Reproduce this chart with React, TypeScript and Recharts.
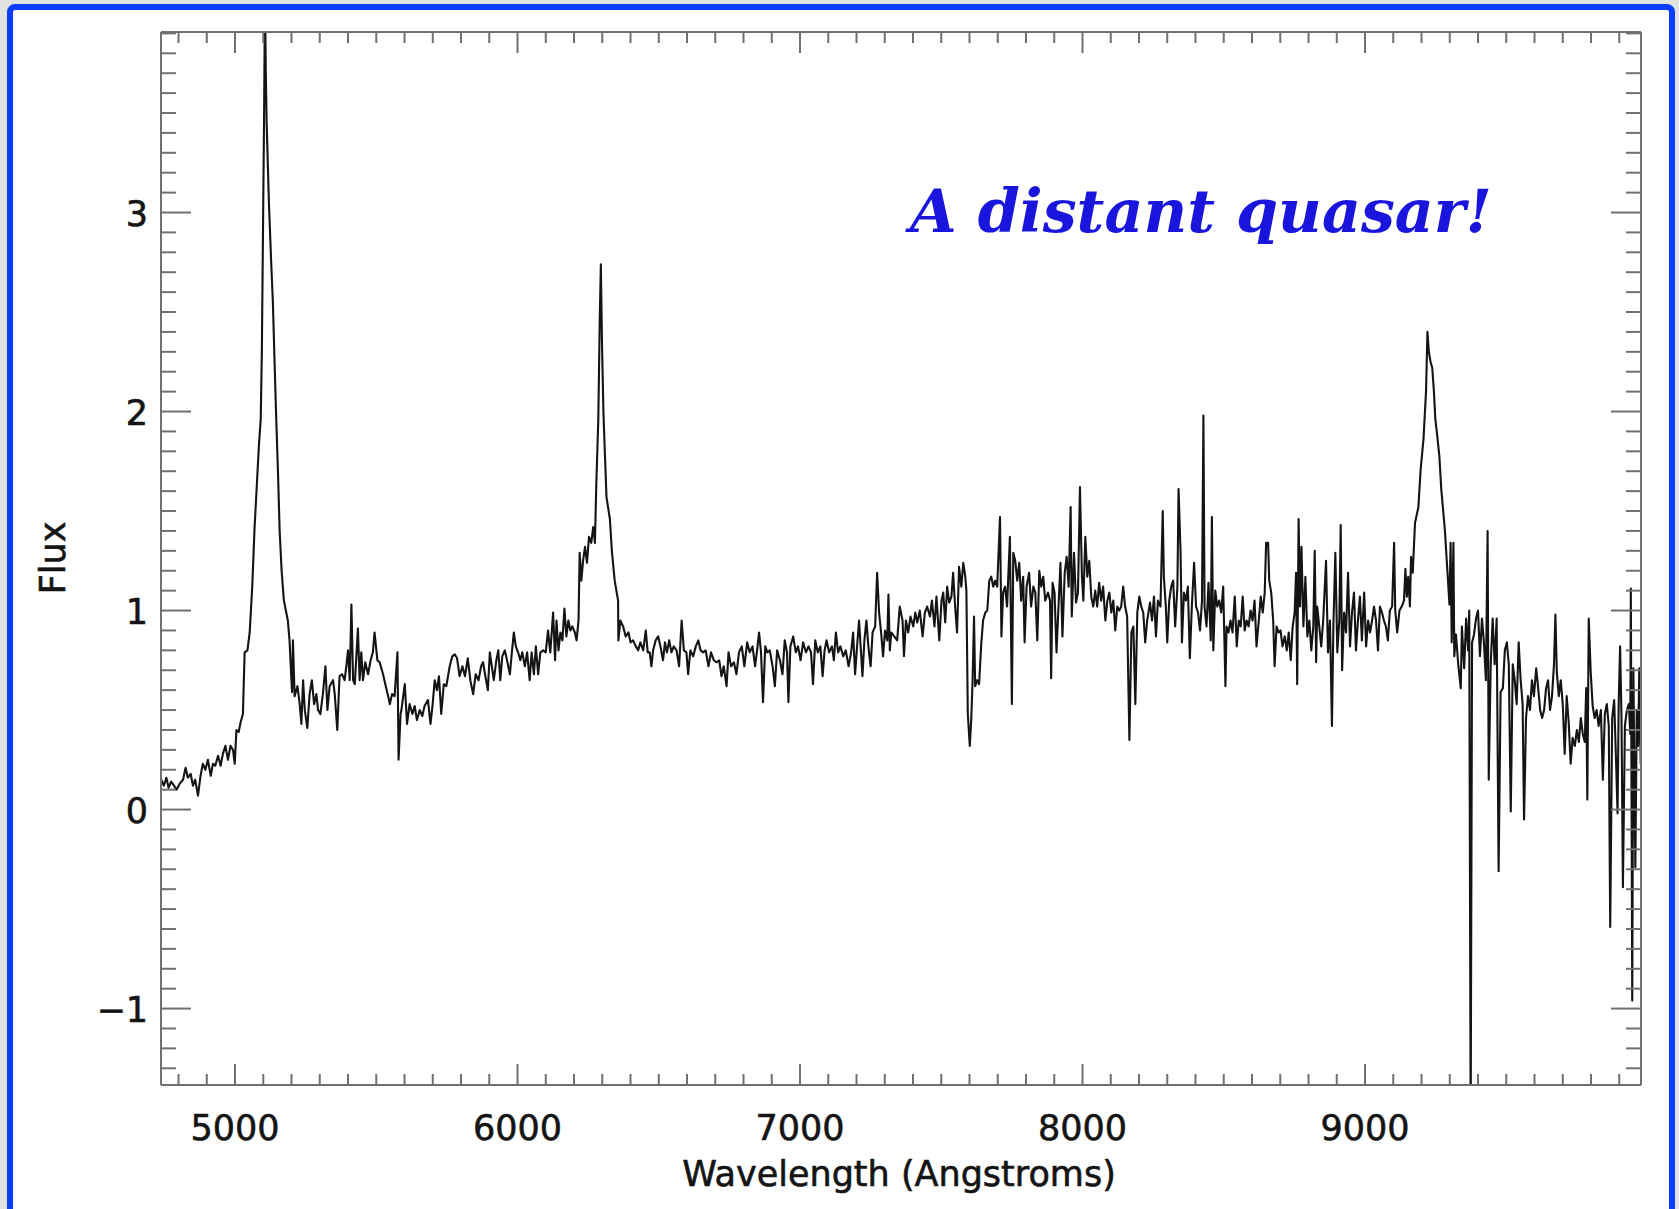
import React from 'react';
import { LineChart, Line, XAxis, YAxis } from 'recharts';

// Spectrum samples as [wavelength (Angstroms), flux] pairs, ordered blue to red.
const blueEdge: [number, number][] = [
  [4739, 0.15], [4748, 0.12], [4757, 0.16], [4765, 0.11], [4774, 0.14], [4784, 0.12], [4793, 0.10],
  [4804, 0.13], [4816, 0.15], [4825, 0.21], [4833, 0.16], [4843, 0.18], [4851, 0.12], [4859, 0.15],
  [4869, 0.07], [4878, 0.17], [4886, 0.23], [4895, 0.20], [4904, 0.25], [4914, 0.17], [4922, 0.23],
  [4930, 0.22], [4940, 0.27], [4949, 0.22], [4957, 0.28], [4966, 0.32], [4975, 0.25], [4984, 0.32],
  [4993, 0.30], [4999, 0.23], [5005, 0.40], [5013, 0.39], [5020, 0.44], [5028, 0.48],
];

const firstPeak: [number, number][] = [
  [5034, 0.79], [5044, 0.80], [5052, 0.89], [5061, 1.12], [5069, 1.41], [5085, 1.84], [5091, 1.96],
  [5095, 2.30], [5099, 2.90], [5103, 3.50], [5106, 4.10], [5109, 3.70], [5112, 3.45], [5120, 3.05],
  [5128, 2.75], [5134, 2.55], [5140, 2.25], [5146, 1.96], [5152, 1.70], [5158, 1.40], [5165, 1.20],
  [5173, 1.05], [5180, 1.00], [5187, 0.95], [5193, 0.85], [5199, 0.67], [5202, 0.59],
];

const range5200to5600: [number, number][] = [
  [5205, 0.85], [5211, 0.57], [5221, 0.62], [5229, 0.53], [5235, 0.43], [5241, 0.65], [5247, 0.50],
  [5256, 0.41], [5264, 0.58], [5272, 0.65], [5280, 0.53], [5288, 0.58], [5294, 0.50], [5302, 0.48],
  [5311, 0.58], [5320, 0.72], [5327, 0.50], [5335, 0.62], [5347, 0.65], [5353, 0.58], [5362, 0.40],
  [5370, 0.67], [5379, 0.68], [5388, 0.65], [5394, 0.72], [5400, 0.80], [5406, 0.65], [5412, 1.03],
  [5418, 0.65], [5424, 0.63], [5435, 0.91], [5441, 0.65], [5447, 0.79], [5453, 0.65], [5461, 0.74],
  [5471, 0.68], [5480, 0.75], [5488, 0.79], [5494, 0.89], [5504, 0.75], [5512, 0.74], [5524, 0.68],
  [5532, 0.63], [5542, 0.57], [5548, 0.53], [5556, 0.58], [5565, 0.57], [5575, 0.79], [5579, 0.25],
  [5586, 0.48],
];

const range5600to6220: [number, number][] = [
  [5589, 0.50], [5601, 0.63], [5609, 0.43], [5618, 0.53], [5628, 0.48], [5636, 0.52], [5644, 0.45],
  [5654, 0.50], [5663, 0.47], [5671, 0.52], [5683, 0.55], [5692, 0.43], [5699, 0.52], [5707, 0.65],
  [5715, 0.60], [5722, 0.67], [5730, 0.48], [5739, 0.63], [5748, 0.62], [5760, 0.72], [5769, 0.77],
  [5778, 0.78], [5786, 0.76], [5795, 0.67], [5805, 0.72], [5814, 0.67], [5824, 0.76], [5833, 0.65],
  [5843, 0.58], [5852, 0.68], [5862, 0.65], [5871, 0.72], [5878, 0.74], [5885, 0.68], [5895, 0.60],
  [5902, 0.79], [5909, 0.72], [5916, 0.65], [5925, 0.75], [5932, 0.80], [5939, 0.65], [5946, 0.77],
  [5955, 0.80], [5963, 0.75], [5973, 0.68], [5980, 0.79], [5987, 0.89], [5994, 0.82], [6002, 0.79],
  [6010, 0.75], [6017, 0.79], [6026, 0.72], [6034, 0.79], [6043, 0.65], [6050, 0.79], [6058, 0.68],
  [6065, 0.82], [6073, 0.68], [6081, 0.79], [6091, 0.80], [6100, 0.79], [6108, 0.90], [6116, 0.79],
  [6126, 0.99], [6133, 0.75], [6138, 0.95], [6145, 0.80], [6152, 0.89], [6159, 0.85], [6166, 1.01],
  [6173, 0.87], [6180, 0.95], [6187, 0.90], [6194, 0.92], [6203, 0.89], [6209, 0.85], [6216, 0.95],
];

const secondPeak: [number, number][] = [
  [6220, 1.29], [6226, 1.15], [6232, 1.25], [6239, 1.32], [6246, 1.24], [6253, 1.37], [6261, 1.34],
  [6268, 1.42], [6274, 1.34], [6279, 1.64], [6286, 1.96], [6291, 2.45], [6295, 2.74], [6299, 2.35],
  [6304, 2.00], [6309, 1.80], [6315, 1.57], [6327, 1.46], [6334, 1.30], [6344, 1.15], [6356, 1.05],
  [6357, 0.85], [6364, 0.95], [6374, 0.92], [6383, 0.87], [6393, 0.89], [6400, 0.84], [6409, 0.85],
  [6419, 0.82], [6427, 0.80], [6435, 0.84], [6445, 0.80], [6454, 0.90], [6461, 0.79],
];

const range6460to7350: [number, number][] = [
  [6468, 0.79], [6474, 0.72], [6480, 0.80], [6489, 0.85], [6498, 0.87], [6506, 0.82], [6515, 0.75],
  [6522, 0.84], [6529, 0.79], [6537, 0.85], [6545, 0.79], [6553, 0.82], [6563, 0.80], [6572, 0.72],
  [6581, 0.95], [6589, 0.80], [6598, 0.79], [6604, 0.68], [6612, 0.80], [6622, 0.77], [6631, 0.82],
  [6640, 0.85], [6648, 0.80], [6657, 0.79], [6666, 0.80], [6676, 0.72], [6685, 0.79], [6695, 0.75],
  [6704, 0.74], [6714, 0.75], [6722, 0.67], [6730, 0.72], [6740, 0.62], [6747, 0.79], [6756, 0.72],
  [6766, 0.74], [6775, 0.68], [6784, 0.79], [6794, 0.82], [6803, 0.72], [6813, 0.84], [6822, 0.79],
  [6832, 0.82], [6841, 0.72], [6848, 0.80], [6855, 0.89], [6862, 0.79], [6869, 0.54], [6877, 0.82],
  [6884, 0.79], [6893, 0.80], [6903, 0.72], [6911, 0.62], [6919, 0.80], [6929, 0.75], [6938, 0.68],
  [6946, 0.85], [6954, 0.79], [6959, 0.54], [6966, 0.82], [6976, 0.87], [6985, 0.79], [6993, 0.82],
  [7002, 0.75], [7011, 0.84], [7021, 0.79], [7030, 0.82], [7039, 0.79], [7046, 0.63], [7054, 0.85],
  [7063, 0.79], [7072, 0.82], [7080, 0.67], [7087, 0.80], [7094, 0.85], [7103, 0.79], [7113, 0.82],
  [7120, 0.75], [7127, 0.89], [7135, 0.79], [7143, 0.82], [7153, 0.77], [7162, 0.80], [7172, 0.72],
  [7181, 0.79], [7188, 0.89], [7195, 0.68], [7202, 0.82], [7209, 0.95], [7216, 0.79], [7221, 0.67],
  [7228, 0.85], [7235, 0.95], [7242, 0.82], [7250, 0.72], [7257, 0.89], [7266, 0.92], [7273, 1.19],
  [7280, 0.99], [7287, 0.89], [7294, 0.77], [7301, 0.90], [7309, 0.85], [7313, 1.08], [7318, 0.80],
  [7323, 0.89], [7344, 0.85],
];

const range7350to8230: [number, number][] = [
  [7353, 1.02], [7363, 0.95], [7368, 0.77], [7375, 0.95], [7383, 0.89], [7391, 0.97], [7401, 0.92],
  [7408, 0.99], [7415, 0.94], [7424, 1.00], [7434, 0.87], [7442, 0.99], [7450, 1.02], [7460, 0.97],
  [7467, 1.05], [7476, 0.92], [7483, 1.07], [7493, 0.85], [7501, 1.05], [7507, 1.09], [7514, 0.94],
  [7521, 1.12], [7528, 1.04], [7536, 1.07], [7542, 1.19], [7549, 1.02], [7556, 0.89], [7563, 1.22],
  [7571, 1.12], [7578, 1.24], [7585, 1.17], [7589, 1.10], [7594, 0.48], [7601, 0.32], [7606, 0.45],
  [7611, 0.65], [7616, 0.97], [7620, 0.62], [7627, 0.65], [7634, 0.63], [7641, 0.82], [7648, 0.95],
  [7656, 0.99], [7663, 1.00], [7670, 1.15], [7677, 1.17], [7684, 1.12], [7691, 1.15], [7698, 1.12],
  [7708, 1.47], [7713, 0.87], [7719, 1.09], [7726, 1.12], [7733, 1.02], [7743, 1.37], [7750, 0.53],
  [7755, 1.29], [7762, 1.25], [7769, 1.15], [7776, 1.24], [7783, 1.05], [7790, 1.17], [7795, 0.84],
  [7802, 1.12], [7811, 1.19], [7818, 1.02], [7826, 1.12], [7833, 1.09], [7840, 0.85], [7847, 1.20],
  [7854, 1.12], [7861, 1.17], [7868, 1.05], [7878, 1.09], [7885, 1.05], [7889, 0.66], [7894, 1.14],
  [7901, 1.09], [7908, 0.79], [7915, 1.02], [7922, 1.24], [7929, 0.87], [7937, 1.19], [7944, 1.27],
  [7951, 1.12], [7958, 1.52], [7962, 0.97], [7970, 1.29], [7977, 1.04], [7984, 1.09], [7991, 1.62],
  [7998, 1.17], [8003, 1.05], [8010, 1.37], [8017, 1.17], [8024, 1.25], [8031, 1.07], [8038, 1.02],
  [8045, 1.10], [8052, 1.02], [8059, 1.14], [8066, 1.05], [8073, 1.12], [8081, 0.95], [8088, 1.05],
  [8095, 1.09], [8102, 0.99], [8109, 1.05], [8116, 0.90], [8123, 1.02], [8130, 1.00], [8137, 1.02],
  [8144, 1.12], [8151, 1.02], [8158, 0.97], [8166, 0.35], [8173, 0.89], [8180, 0.92], [8187, 0.53],
  [8194, 0.99], [8201, 1.07], [8208, 1.02], [8215, 0.99], [8222, 0.84], [8229, 0.95],
];

const range8230to9125: [number, number][] = [
  [8239, 1.04], [8246, 0.95], [8253, 1.07], [8260, 0.87], [8267, 1.05], [8276, 1.02], [8284, 1.50],
  [8288, 1.17], [8295, 1.02], [8300, 0.84], [8307, 1.05], [8314, 1.12], [8321, 1.15], [8328, 0.92],
  [8336, 1.12], [8340, 1.61], [8347, 1.30], [8352, 0.84], [8359, 1.09], [8366, 1.05], [8373, 1.12],
  [8380, 0.76], [8387, 1.02], [8395, 1.24], [8402, 1.02], [8409, 0.99], [8416, 0.90], [8423, 1.05],
  [8428, 1.98], [8432, 1.02], [8439, 0.92], [8446, 1.14], [8454, 0.85], [8458, 1.47], [8463, 0.80],
  [8470, 1.10], [8477, 1.02], [8484, 1.05], [8491, 0.99], [8498, 1.12], [8506, 0.62], [8510, 0.92],
  [8517, 0.89], [8524, 0.95], [8531, 0.89], [8539, 1.07], [8546, 0.82], [8553, 0.95], [8560, 0.92],
  [8567, 1.07], [8574, 0.90], [8581, 0.95], [8588, 0.92], [8595, 1.00], [8602, 0.95], [8609, 1.05],
  [8616, 0.82], [8624, 0.95], [8631, 1.07], [8638, 0.99], [8645, 1.09], [8650, 1.34], [8657, 1.34],
  [8661, 1.15], [8668, 1.09], [8675, 0.95], [8680, 0.72], [8687, 0.92], [8694, 0.89], [8701, 0.90],
  [8708, 0.82], [8716, 0.87], [8723, 0.80], [8730, 0.89], [8737, 0.75], [8744, 0.92], [8751, 0.99],
  [8756, 1.19], [8760, 0.63], [8765, 1.46], [8770, 1.02], [8775, 1.32], [8782, 0.92], [8789, 1.17],
  [8796, 0.87], [8803, 0.95], [8810, 0.80], [8817, 0.92], [8822, 1.30], [8827, 0.74], [8831, 1.02],
  [8838, 0.92], [8845, 0.82], [8852, 0.95], [8862, 1.25], [8869, 0.79], [8876, 0.95], [8883, 0.42],
  [8888, 0.92], [8895, 1.29], [8902, 0.79], [8909, 0.95], [8914, 1.43], [8919, 0.70], [8926, 0.99],
  [8933, 0.89], [8940, 1.19], [8947, 0.82], [8954, 0.99], [8961, 1.09], [8968, 0.80], [8975, 0.95],
  [8982, 1.07], [8989, 0.85], [8997, 1.09], [9004, 0.82], [9011, 0.95], [9018, 0.89], [9025, 0.95],
  [9032, 1.02], [9039, 0.95], [9046, 0.80], [9053, 1.02], [9060, 0.99], [9067, 0.95], [9074, 0.92],
  [9081, 0.85], [9088, 1.00], [9096, 1.02], [9103, 1.34], [9107, 1.00], [9114, 0.89], [9122, 1.00],
];

const thirdPeak: [number, number][] = [
  [9130, 1.02], [9138, 1.05], [9143, 1.21], [9148, 1.07], [9153, 1.17], [9159, 1.02], [9163, 1.27],
  [9169, 1.19], [9177, 1.44], [9189, 1.52], [9197, 1.71], [9207, 1.86], [9216, 2.10], [9221, 2.40],
  [9226, 2.30], [9232, 2.25], [9238, 2.22], [9244, 2.10], [9249, 1.96], [9254, 1.90], [9263, 1.78],
  [9270, 1.61], [9283, 1.40], [9289, 1.26], [9299, 1.03],
];

const redEdge: [number, number][] = [
  [9303, 1.34], [9307, 0.84], [9313, 1.34], [9316, 0.77], [9322, 0.88], [9330, 0.73], [9339, 0.61],
  [9343, 0.92], [9351, 0.71], [9358, 0.96], [9365, 0.80], [9369, 1.00], [9374, -1.60], [9379, 0.84],
  [9386, 0.88], [9393, 0.96], [9400, 1.00], [9407, 0.77], [9414, 0.96], [9421, 0.84], [9428, 0.65],
  [9434, 1.40], [9438, 0.15], [9445, 0.73], [9452, 0.96], [9459, 0.73], [9466, 0.96], [9473, -0.31],
  [9480, 0.59], [9488, 0.61], [9495, 0.80], [9502, 0.84], [9509, 0.73], [9516, -0.01], [9523, 0.73],
  [9530, 0.65], [9537, 0.53], [9544, 0.84], [9551, 0.65], [9558, 0.53], [9563, -0.05], [9570, 0.46],
  [9577, 0.57], [9584, 0.50], [9591, 0.65], [9598, 0.57], [9606, 0.71], [9613, 0.61], [9620, 0.50],
  [9627, 0.46], [9634, 0.50], [9641, 0.61], [9648, 0.65], [9655, 0.50], [9662, 0.57], [9669, 0.73],
  [9674, 0.98], [9679, 0.69], [9686, 0.57], [9693, 0.65], [9700, 0.53], [9707, 0.28], [9714, 0.57],
  [9721, 0.44], [9728, 0.23], [9735, 0.36], [9743, 0.32], [9750, 0.40], [9757, 0.34], [9764, 0.46],
  [9771, 0.38], [9778, 0.34], [9783, 0.61], [9787, 0.05], [9792, 0.96], [9799, 0.69], [9806, 0.52],
  [9813, 0.46], [9820, 0.50], [9827, 0.42], [9835, 0.50], [9842, 0.15], [9849, 0.48], [9856, 0.53],
  [9863, 0.42], [9868, -0.59], [9875, 0.46], [9882, 0.55], [9889, 0.23], [9894, -0.02], [9898, 0.53],
  [9903, 0.82], [9908, 0.46], [9913, -0.39], [9920, 0.42], [9927, 0.50], [9934, 0.53], [9939, 0.38],
  [9941, 1.11], [9946, -0.96], [9950, 0.71], [9957, -0.29], [9962, 0.50], [9967, 0.32], [9971, 0.71],
  [9976, 0.23],
];

// Axis ranges and tick marks
const X_DOMAIN: [number, number] = [4738, 9977];
const Y_DOMAIN: [number, number] = [-1.384, 3.907];
const X_MAJOR_STEP = 1000;
const X_MINOR = Array.from({ length: 52 }, (_, i) => 4800 + i * 100);
const Y_MINOR = Array.from({ length: 53 }, (_, i) => Math.round((-1.3 + i * 0.1) * 10) / 10);

const TITLE = 'A distant quasar!';
const X_TITLE = 'Wavelength (Angstroms)';
const Y_TITLE = 'Flux';

const spectrum = [
  ...blueEdge, ...firstPeak, ...range5200to5600, ...range5600to6220, ...secondPeak,
  ...range6460to7350, ...range7350to8230, ...range8230to9125, ...thirdPeak, ...redEdge,
].map(([wl, f]) => ({ wl, f }));

const FRAME = '#707070';
const INK = '#141414';
const SANS = '"DejaVu Sans", "Liberation Sans", sans-serif';

const isXMajor = (v: number) => v % X_MAJOR_STEP === 0;
const isYMajor = (v: number) => Math.abs(v - Math.round(v)) < 1e-6;
const fmtY = (v: number) => (v < 0 ? '\u2212' + Math.abs(v) : String(v));

// Text slightly emboldened with a thin outline of its own colour
const labelStyle = { stroke: INK, strokeWidth: 0.6 };

// Inward tick marks: majors long, minors half length; labels only on bottom/left.
const BottomTick = (p: any) => {
  const v = p.payload.value;
  const major = isXMajor(v);
  return (
    <g>
      <line x1={p.x} y1={p.y} x2={p.x} y2={p.y - (major ? 21 : 11)} stroke={FRAME} strokeWidth={2} />
      {major && (
        <text x={p.x} y={p.y + 55} textAnchor="middle" fontSize={35} fontFamily={SANS} fill={INK} style={labelStyle}>
          {v}
        </text>
      )}
    </g>
  );
};

const TopTick = (p: any) => {
  const major = isXMajor(p.payload.value);
  return <line x1={p.x} y1={p.y} x2={p.x} y2={p.y + (major ? 21 : 11)} stroke={FRAME} strokeWidth={2} />;
};

const LeftTick = (p: any) => {
  const v = p.payload.value;
  const major = isYMajor(v);
  return (
    <g>
      <line x1={p.x} y1={p.y} x2={p.x + (major ? 30 : 15)} y2={p.y} stroke={FRAME} strokeWidth={2} />
      {major && (
        <text x={p.x - 13} y={p.y + 13} textAnchor="end" fontSize={35} fontFamily={SANS} fill={INK} style={labelStyle}>
          {fmtY(Math.round(v))}
        </text>
      )}
    </g>
  );
};

const RightTick = (p: any) => {
  const major = isYMajor(p.payload.value);
  return <line x1={p.x} y1={p.y} x2={p.x - (major ? 30 : 15)} y2={p.y} stroke={FRAME} strokeWidth={2} />;
};

const axisLine = { stroke: FRAME, strokeWidth: 2 };

export default function App() {
  return (
    <div
      style={{
        position: 'absolute',
        left: 0,
        top: 0,
        width: 1679,
        height: 1209,
        overflow: 'hidden',
        background: '#e2e2e2',
      }}
    >
      <div
        style={{
          position: 'absolute',
          left: 7,
          top: 4,
          width: 1668,
          height: 1240,
          boxSizing: 'border-box',
          border: '6px solid #0a3dff',
          borderRadius: 8,
          background: '#ffffff',
        }}
      />
      <div style={{ position: 'absolute', left: 0, top: 0 }}>
        <LineChart
          width={1679}
          height={1209}
          data={spectrum}
          margin={{ top: 31, right: 37, bottom: 44, left: 61 }}
        >
          <XAxis
            xAxisId="bottom"
            type="number"
            dataKey="wl"
            domain={X_DOMAIN}
            allowDataOverflow
            ticks={X_MINOR}
            interval={0}
            tickSize={0}
            tickMargin={0}
            tickLine={false}
            axisLine={axisLine}
            height={80}
            tick={(p: any) => <BottomTick {...p} />}
          />
          <XAxis
            xAxisId="top"
            orientation="top"
            type="number"
            dataKey="wl"
            domain={X_DOMAIN}
            allowDataOverflow
            ticks={X_MINOR}
            interval={0}
            tickSize={0}
            tickMargin={0}
            tickLine={false}
            axisLine={axisLine}
            height={1}
            tick={(p: any) => <TopTick {...p} />}
          />
          <YAxis
            yAxisId="left"
            type="number"
            domain={Y_DOMAIN}
            allowDataOverflow
            ticks={Y_MINOR}
            interval={0}
            tickSize={0}
            tickMargin={0}
            tickLine={false}
            axisLine={axisLine}
            width={100}
            tick={(p: any) => <LeftTick {...p} />}
          />
          <YAxis
            yAxisId="right"
            orientation="right"
            type="number"
            domain={Y_DOMAIN}
            allowDataOverflow
            ticks={Y_MINOR}
            interval={0}
            tickSize={0}
            tickMargin={0}
            tickLine={false}
            axisLine={axisLine}
            width={1}
            tick={(p: any) => <RightTick {...p} />}
          />
          <Line
            xAxisId="bottom"
            yAxisId="left"
            dataKey="f"
            type="linear"
            stroke={INK}
            strokeWidth={2.1}
            strokeLinejoin="round"
            dot={false}
            activeDot={false}
            isAnimationActive={false}
          />
        </LineChart>
      </div>
      <svg
        width={1679}
        height={1209}
        style={{ position: 'absolute', left: 0, top: 0, pointerEvents: 'none' }}
      >
        <text
          x={910}
          y={232}
          fontSize={60}
          fontFamily='"DejaVu Serif", "Liberation Serif", serif'
          fontWeight="bold"
          fontStyle="italic"
          fill="#1a15dd"
          textLength={582}
          lengthAdjust="spacingAndGlyphs"
        >
          {TITLE}
        </text>
        <text x={899} y={1186} textAnchor="middle" fontSize={35} fontFamily={SANS} fill={INK} style={labelStyle}>
          {X_TITLE}
        </text>
        <text
          x={65}
          y={558}
          transform="rotate(-90 65 558)"
          textAnchor="middle"
          fontSize={35}
          fontFamily={SANS}
          fill={INK}
          style={labelStyle}
        >
          {Y_TITLE}
        </text>
      </svg>
    </div>
  );
}
